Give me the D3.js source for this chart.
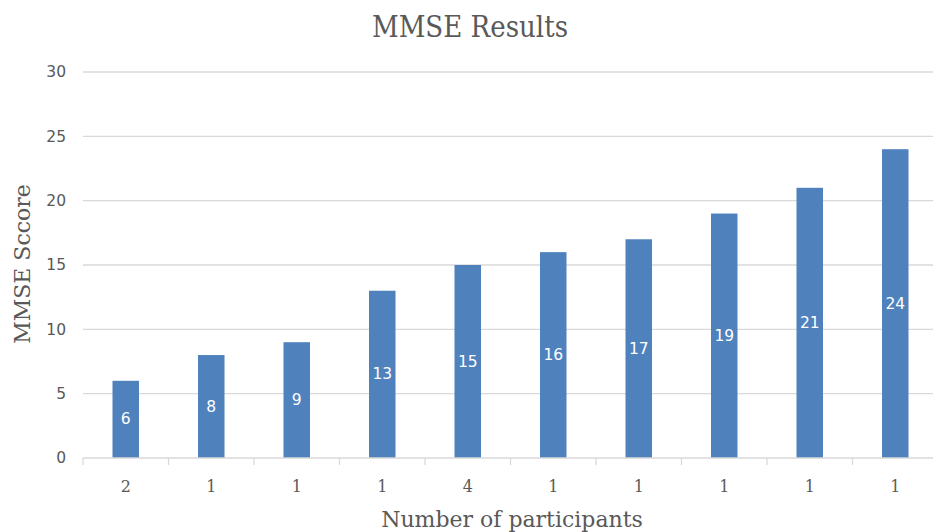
<!DOCTYPE html>
<html>
<head>
<meta charset="utf-8">
<script src="https://cdn.jsdelivr.net/npm/d3@7"></script>
<style>
  html, body { margin: 0; padding: 0; background: #fff; }
  svg { display: block; }
</style>
</head>
<body>
<div id="chart"></div>
<script>
// MMSE score for each group, labelled by the number of participants in it
const participants = ["2", "1", "1", "1", "4", "1", "1", "1", "1", "1"];
const scores = [6, 8, 9, 13, 15, 16, 17, 19, 21, 24];
const yTicks = [0, 5, 10, 15, 20, 25, 30];

const W = 933, H = 532;
const margin = { left: 83, right: -5, top: 72, bottom: 74 };
const plotW = W - margin.left - margin.right;
const plotH = H - margin.top - margin.bottom;

const svg = d3.select("#chart").append("svg")
  .attr("width", W).attr("height", H);

const g = svg.append("g").attr("transform", `translate(${margin.left},${margin.top})`);

const x = d3.scaleBand()
  .domain(d3.range(scores.length))
  .range([0, plotW])
  .paddingInner(0.69)
  .paddingOuter(0.345);

const y = d3.scaleLinear().domain([0, 30]).range([plotH, 0]);

// horizontal gridlines
g.append("g")
  .selectAll("line")
  .data(yTicks.filter(t => t > 0))
  .join("line")
  .attr("x1", 0).attr("x2", plotW)
  .attr("y1", d => y(d)).attr("y2", d => y(d))
  .attr("stroke", "#d9d9d9").attr("stroke-width", 1.3);

// y axis tick labels
const yAxis = g.append("g").call(d3.axisLeft(y).tickValues(yTicks).tickSize(0).tickPadding(17));
yAxis.select(".domain").remove();
yAxis.selectAll("text")
  .attr("fill", "#595959")
  .style("font-family", "'DejaVu Sans', Verdana, sans-serif")
  .style("font-size", "15.5px");

// bars
g.append("g")
  .selectAll("rect")
  .data(scores)
  .join("rect")
  .attr("x", (d, i) => x(i))
  .attr("width", x.bandwidth())
  .attr("y", d => y(d))
  .attr("height", d => y(0) - y(d))
  .attr("fill", "#4f81bd");

// value labels centred inside each bar
g.append("g")
  .selectAll("text")
  .data(scores)
  .join("text")
  .attr("x", (d, i) => x(i) + x.bandwidth() / 2)
  .attr("y", d => (y(d) + y(0)) / 2)
  .attr("text-anchor", "middle")
  .attr("dominant-baseline", "central")
  .attr("fill", "#ffffff")
  .style("font-family", "'DejaVu Sans', Verdana, sans-serif")
  .style("font-size", "15.5px")
  .text(d => d);

// x axis with tick marks on category boundaries
const step = x.step();
const xAxisG = g.append("g").attr("transform", `translate(0,${plotH})`);
xAxisG.append("line")
  .attr("x1", 0).attr("x2", plotW)
  .attr("stroke", "#d9d9d9").attr("stroke-width", 1.3);
xAxisG.selectAll("line.tick")
  .data(d3.range(scores.length + 1))
  .join("line")
  .attr("class", "tick")
  .attr("x1", i => i * step).attr("x2", i => i * step)
  .attr("y1", 0).attr("y2", 7)
  .attr("stroke", "#d9d9d9").attr("stroke-width", 1.3);
xAxisG.selectAll("text")
  .data(participants)
  .join("text")
  .attr("x", (d, i) => x(i) + x.bandwidth() / 2)
  .attr("y", 28)
  .attr("text-anchor", "middle")
  .attr("dominant-baseline", "central")
  .attr("fill", "#595959")
  .style("font-family", "'DejaVu Serif', serif")
  .style("font-size", "16px")
  .text(d => d);

// chart title (slightly narrowed slab serif)
svg.append("text")
  .attr("transform", "translate(470,27) scale(0.9,1)")
  .attr("text-anchor", "middle")
  .attr("dominant-baseline", "central")
  .attr("fill", "#595959")
  .style("font-family", "'DejaVu Serif', serif")
  .style("font-size", "29px")
  .text("MMSE Results");

// axis titles
svg.append("text")
  .attr("x", 512).attr("y", 519)
  .attr("text-anchor", "middle")
  .attr("dominant-baseline", "central")
  .attr("fill", "#595959")
  .style("font-family", "'DejaVu Serif', serif")
  .style("font-size", "22px")
  .text("Number of participants");

svg.append("text")
  .attr("transform", "translate(22,264) rotate(-90)")
  .attr("text-anchor", "middle")
  .attr("dominant-baseline", "central")
  .attr("fill", "#595959")
  .style("font-family", "'DejaVu Serif', serif")
  .style("font-size", "22px")
  .text("MMSE Sccore");
</script>
</body>
</html>
